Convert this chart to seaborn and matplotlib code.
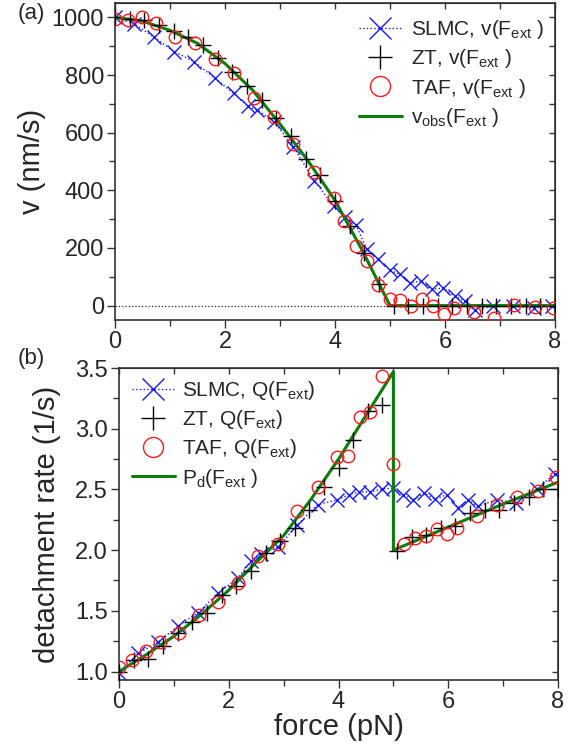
import numpy as np
import pandas as pd
import seaborn as sns
import matplotlib.pyplot as plt
from matplotlib.ticker import MultipleLocator

# force values (pN) of each data set
f_slmc = [0.0, 0.345, 0.71, 1.08, 1.44, 1.81, 2.16, 2.41, 2.59, 2.90, 3.24, 3.62, 3.98, 4.19, 4.38,
          4.58, 4.79, 5.0, 5.18, 5.36, 5.56, 5.76, 5.97, 6.18, 6.36, 6.54, 6.88, 7.24, 7.61, 7.94]
f_zt = [0.0, 0.27, 0.53, 0.8, 1.07, 1.33, 1.6, 1.87, 2.13, 2.4, 2.67, 2.93, 3.2, 3.47, 3.73, 4.0,
        4.27, 4.53, 4.8, 5.07, 5.33, 5.6, 5.87, 6.13, 6.4, 6.67, 6.93, 7.2, 7.47, 7.73, 8.0]
f_taf = [0.0, 0.24, 0.5, 0.74, 1.09, 1.45, 1.81, 2.16, 2.53, 2.89, 3.24, 3.62, 3.98, 4.17, 4.39,
         4.58, 4.79, 5.0, 5.19, 5.39, 5.59, 5.79, 5.98, 6.16, 6.53, 6.89, 7.25, 7.63, 7.96]

# (a) velocity (nm/s)
v_slmc = [1000, 978, 931, 881, 846, 790, 736, 692, 678, 637, 552, 434, 344, 306, 280,
          195, 160, 122, 108, 79, 85, 56, 61, 32, 15, -16, 0, 0, -9, 0]
v_zt = [1000, 994, 992, 974, 954, 931, 904, 858, 811, 761, 715, 652, 590, 509, 453, 362,
        277, 184, 75, 0, 0, 0, 0, 0, 0, 0, 0, 0, 0, 0, 0]
v_taf = [995, 992, 1000, 980, 931, 912, 854, 806, 722, 654, 561, 463, 372, 292, 207,
         155, 73, 24, 21, -2, 24, -2, -29, -8, -22, -42, 1, -6, -10]
f_model = [0.0, 0.5, 1.0, 1.5, 2.0, 2.5, 3.0, 3.5, 4.0, 4.5, 5.0, 6.0, 7.0, 8.0]
v_obs = [1000, 987, 955, 910, 840, 748, 630, 505, 365, 190, 0, 0, 0, 0]

# (b) detachment rate (1/s)
q_slmc = [0.99, 1.15, 1.24, 1.376, 1.486, 1.646, 1.77, 1.907, 1.97, 2.025, 2.203, 2.374, 2.415, 2.456, 2.48,
          2.48, 2.503, 2.51, 2.457, 2.415, 2.47, 2.42, 2.457, 2.35, 2.41, 2.36, 2.415, 2.39, 2.50, 2.63]
q_zt = [1.0, 1.096, 1.10, 1.21, 1.32, 1.41, 1.48, 1.63, 1.706, 1.832, 1.975, 2.071, 2.181, 2.332, 2.517, 2.676,
        2.909, 3.15, 3.195, 1.99, 2.106, 2.123, 2.18, 2.20, 2.305, 2.332, 2.33, 2.385, 2.435, 2.50, 2.50]
q_taf = [1.04, 1.096, 1.17, 1.247, 1.321, 1.467, 1.569, 1.728, 1.948, 2.049, 2.319, 2.519, 2.764, 2.772, 3.096,
         3.135, 3.437, 2.709, 2.048, 2.099, 2.118, 2.173, 2.135, 2.181, 2.283, 2.368, 2.437, 2.484, 2.60]
f_pd = [0.0, 0.5, 1.0, 1.5, 2.0, 2.5, 3.0, 3.5, 4.0, 4.5, 5.0, 5.0, 6.0, 7.0, 8.0]
p_d = [1.0, 1.14, 1.29, 1.47, 1.67, 1.90, 2.12, 2.42, 2.75, 3.11, 3.47, 2.0, 2.19, 2.38, 2.56]

sns.set_style('ticks')
plt.rcParams['font.family'] = ['Liberation Sans', 'DejaVu Sans']
plt.rcParams['mathtext.fontset'] = 'custom'
plt.rcParams['mathtext.rm'] = 'Liberation Sans'
plt.rcParams['mathtext.it'] = 'Liberation Sans:italic'

BLUE = '#1a1aff'
RED = '#ff1a1a'
GREEN = '#0a7d0a'
SPINE = '#333333'


def draw_panel(ax, f_s, y_s, f_z, y_z, f_t, y_t, f_m, y_m, names):
    sns.lineplot(x=f_s, y=y_s, ax=ax, estimator=None, sort=False, color=BLUE, linestyle=':',
                 linewidth=1.0, marker='x', markersize=10, markeredgewidth=1.0,
                 markeredgecolor=BLUE, label=names[0], zorder=2)
    sns.lineplot(x=f_m, y=y_m, ax=ax, estimator=None, sort=False, color=GREEN, linewidth=2.2,
                 label=names[3], zorder=3)
    sns.lineplot(x=f_z, y=y_z, ax=ax, estimator=None, sort=False, color='black', linestyle='',
                 marker='+', markersize=11, markeredgewidth=1.0, markeredgecolor='black',
                 label=names[1], zorder=4)
    sns.lineplot(x=f_t, y=y_t, ax=ax, estimator=None, sort=False, color=RED, linestyle='',
                 marker='o', markersize=9, markerfacecolor='none', markeredgecolor=RED,
                 markeredgewidth=1.0, label=names[2], zorder=5)


def style_axis(ax, ymaj, ymin):
    ax.set_xlim(0, 8)
    ax.xaxis.set_major_locator(MultipleLocator(2))
    ax.xaxis.set_minor_locator(MultipleLocator(1))
    ax.yaxis.set_major_locator(MultipleLocator(ymaj))
    ax.yaxis.set_minor_locator(MultipleLocator(ymin))
    ax.tick_params(which='major', direction='out', length=6, width=1.0, color=SPINE, labelsize=17, pad=2)
    ax.tick_params(which='minor', direction='out', length=4, width=1.0, color=SPINE)
    for s in ax.spines.values():
        s.set_visible(True)
        s.set_color(SPINE)
        s.set_linewidth(1.2)
    top = ax.secondary_xaxis('top')
    top.xaxis.set_major_locator(MultipleLocator(1))
    top.tick_params(direction='in', length=4, width=1.0, color=SPINE, labeltop=False)
    right = ax.secondary_yaxis('right')
    right.yaxis.set_major_locator(MultipleLocator(ymin))
    right.tick_params(direction='in', length=4, width=1.0, color=SPINE, labelright=False)


fig = plt.figure(figsize=(5.75, 7.48), dpi=100)
ax1 = fig.add_axes([0.200, 0.5722, 0.7652, 0.4238])
ax2 = fig.add_axes([0.207, 0.0909, 0.7635, 0.4171])

# panel (a)
ax1.axhline(0, color='#222222', linestyle=':', linewidth=0.9, zorder=1)
draw_panel(ax1, f_slmc, v_slmc, f_zt, v_zt, f_taf, v_taf, f_model, v_obs,
           [r'SLMC, v(F$_\mathrm{ext}$ )', r'ZT, v(F$_\mathrm{ext}$ )',
            r'TAF, v(F$_\mathrm{ext}$ )', r'v$_\mathrm{obs}$(F$_\mathrm{ext}$ )'])
style_axis(ax1, 200, 100)
ax1.set_ylim(-50, 1050)
ax1.set_ylabel('v (nm/s)', fontsize=21, labelpad=4)
h, l = ax1.get_legend_handles_labels()
order = [0, 2, 3, 1]
ax1.legend([h[i] for i in order], [l[i] for i in order], loc='upper left',
           bbox_to_anchor=(0.53, 0.985), frameon=False, fontsize=15, handlelength=2.1,
           handletextpad=0.4, labelspacing=0.3, borderaxespad=0.1, markerscale=1.6)

# panel (b)
draw_panel(ax2, f_slmc, q_slmc, f_zt, q_zt, f_taf, q_taf, f_pd, p_d,
           [r'SLMC, Q(F$_\mathrm{ext}$)', r'ZT, Q(F$_\mathrm{ext}$)',
            r'TAF, Q(F$_\mathrm{ext}$)', r'P$_\mathrm{d}$(F$_\mathrm{ext}$ )'])
style_axis(ax2, 0.5, 0.25)
ax2.set_ylim(0.93, 3.5)
ax2.yaxis.set_major_formatter(plt.FormatStrFormatter('%.1f'))
ax2.set_ylabel('detachment rate (1/s)', fontsize=21, labelpad=10)
ax2.set_xlabel('force (pN)', fontsize=21, labelpad=0)
h, l = ax2.get_legend_handles_labels()
ax2.legend([h[i] for i in order], [l[i] for i in order], loc='upper left',
           bbox_to_anchor=(0.0, 1.005), frameon=False, fontsize=15, handlelength=2.1,
           handletextpad=0.3, labelspacing=0.3, borderaxespad=0.2, markerscale=1.6)

fig.text(0.030, 0.975, '(a)', fontsize=16)
fig.text(0.031, 0.513, '(b)', fontsize=16)

fig.savefig('out.png', dpi=100)
